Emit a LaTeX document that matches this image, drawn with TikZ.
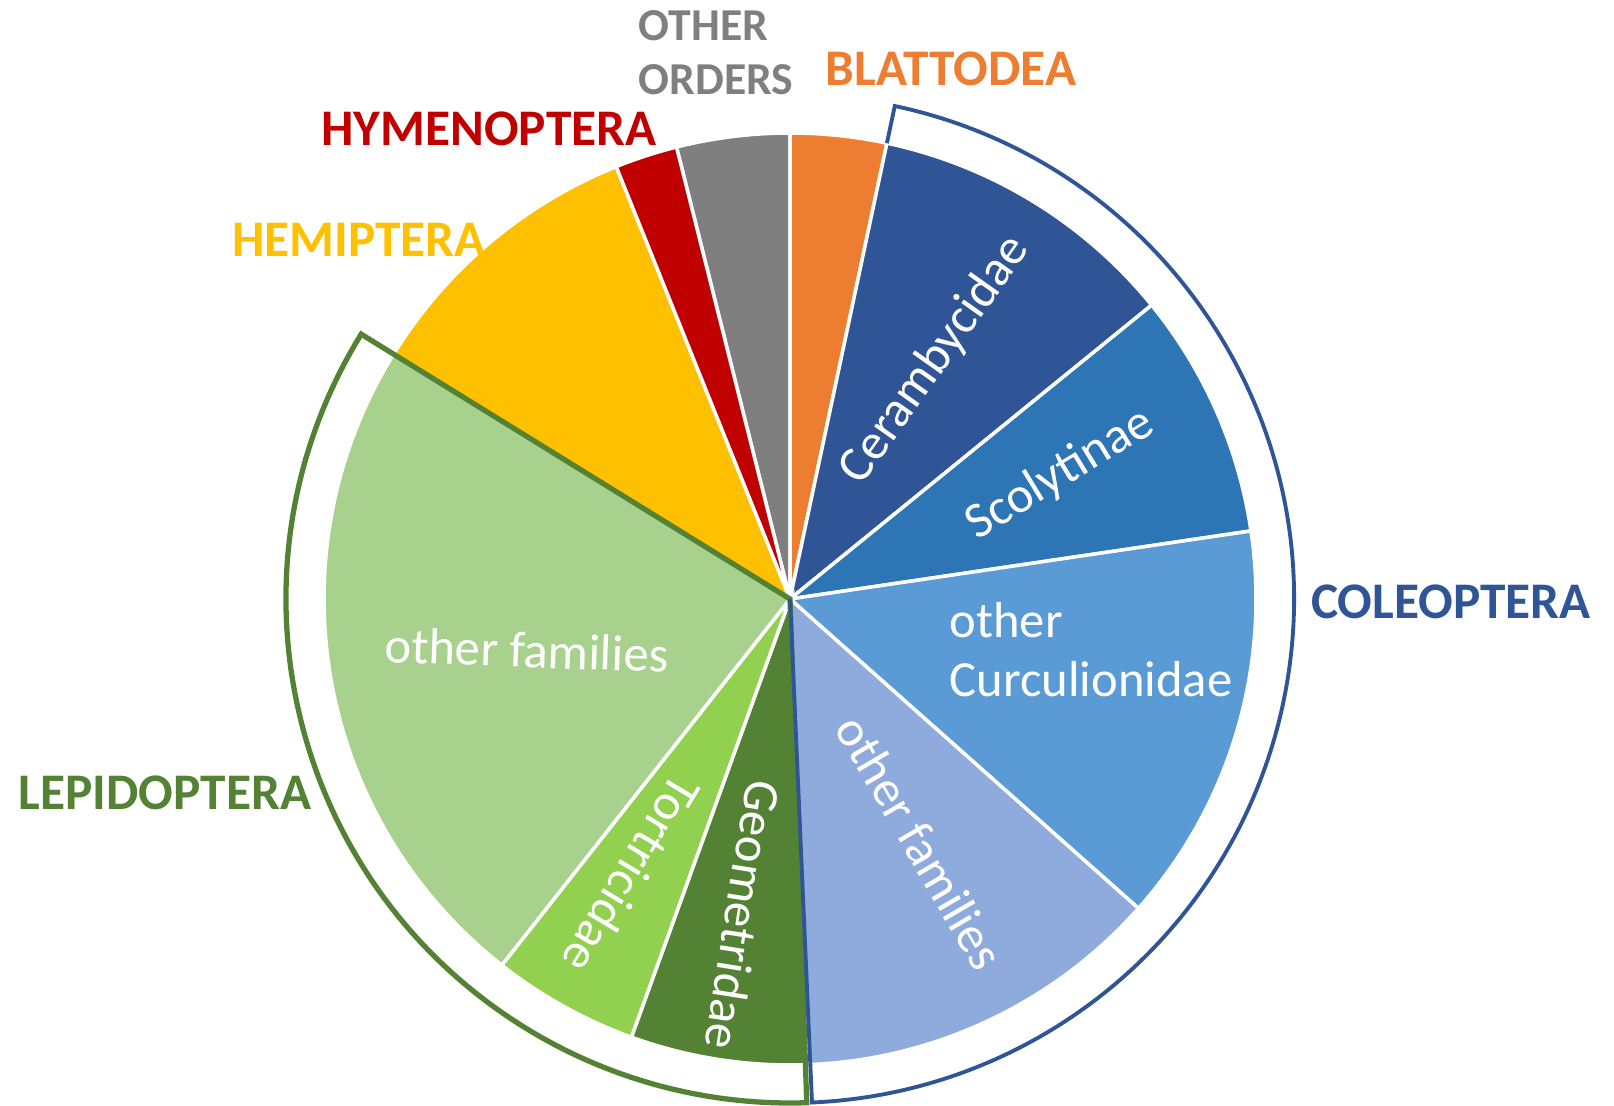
\documentclass[tikz,border=0pt]{standalone}
\usepackage{fontspec}
\setmainfont{Carlito}

\definecolor{otherc}{HTML}{7F7F7F}
\definecolor{blattc}{HTML}{ED7D31}
\definecolor{hymenc}{HTML}{C00000}
\definecolor{hemipc}{HTML}{FFC000}
\definecolor{ceramc}{HTML}{2F5597}
\definecolor{scolyc}{HTML}{2E75B6}
\definecolor{curcuc}{HTML}{5B9BD5}
\definecolor{colfamc}{HTML}{8FAADC}
\definecolor{lepfamc}{HTML}{A9D18E}
\definecolor{tortrc}{HTML}{92D050}
\definecolor{geomec}{HTML}{548235}

\tikzset{
  slice/.style={draw=white, line width=1pt},
  order/.style={font=\bfseries\fontsize{14.6}{15}\selectfont, inner sep=0pt},
  family/.style={text=white, font=\fontsize{14.4}{16.8}\selectfont, inner sep=0pt},
}

\begin{document}
\begin{tikzpicture}
    \useasboundingbox (0,0) rectangle (16.14,11.05);

    % the pie, clockwise from the top
    \begin{scope}[shift={(7.90,5.06)}]
        \foreach \a/\b/\c in {104.1/90/otherc, 90/78/blattc, 78/39.1/ceramc,
                             39.1/8.4/scolyc, 8.4/-41.6/curcuc, -41.6/-87.8/colfamc,
                             -87.8/-109.9/geomec, -109.9/-128.2/tortrc,
                             -128.2/-211.7/lepfamc, -211.7/-248.1/hemipc,
                             -248.1/-255.9/hymenc}
            \filldraw[slice, fill=\c] (0,0) -- (\a:4.66)
                arc[start angle=\a, end angle=\b, radius=4.66] -- cycle;

        % brackets round the two big orders
        \draw[geomec, line width=1.5pt] (0,0) -- (148.3:5.04)
            arc[start angle=148.3, end angle=271.9, radius=5.04] -- cycle;
        \draw[ceramc, line width=1.1pt] (78:4.66) -- (78:5.04)
            arc[start angle=78, end angle=-87.5, radius=5.04] -- (0,0);
    \end{scope}

    % order names
    \node[order, text=otherc, anchor=west, align=left,
          font=\bfseries\fontsize{13}{15.2}\selectfont] (other) at (6.38,10.525) {OTHER\\ORDERS};
    \node[order, text=blattc] (blatt) at (9.51,10.36) {BLATTODEA};
    \node[order, text=hymenc] (hymen) at (4.89,9.76) {HYMENOPTERA};
    \node[order, text=hemipc] (hemip) at (3.59,8.65) {HEMIPTERA};
    \node[order, text=geomec] (lepid) at (1.65,3.12) {LEPIDOPTERA};
    \node[order, text=ceramc] (coleo) at (14.51,5.03) {COLEOPTERA};

    % family names inside the slices
    \node[family, rotate=54.7] (ceramb) at (9.35,7.45) {Cerambycidae};
    \node[family, rotate=31.4] (scoly) at (10.60,6.31) {Scolytinae};
    \node[family, anchor=west, align=left] (curcu) at (9.49,4.555) {other\\Curculionidae};
    \node[family, rotate=-59.8] (colfam) at (9.20,2.63) {other families};
    \node[family, rotate=-2] (lepfam) at (5.27,4.55) {other families};
    \node[family, rotate=-121] (tortr) at (6.32,2.30) {Tortricidae};
    \node[family, rotate=-99] (geome) at (7.43,1.90) {Geometridae};
\end{tikzpicture}
\end{document}
